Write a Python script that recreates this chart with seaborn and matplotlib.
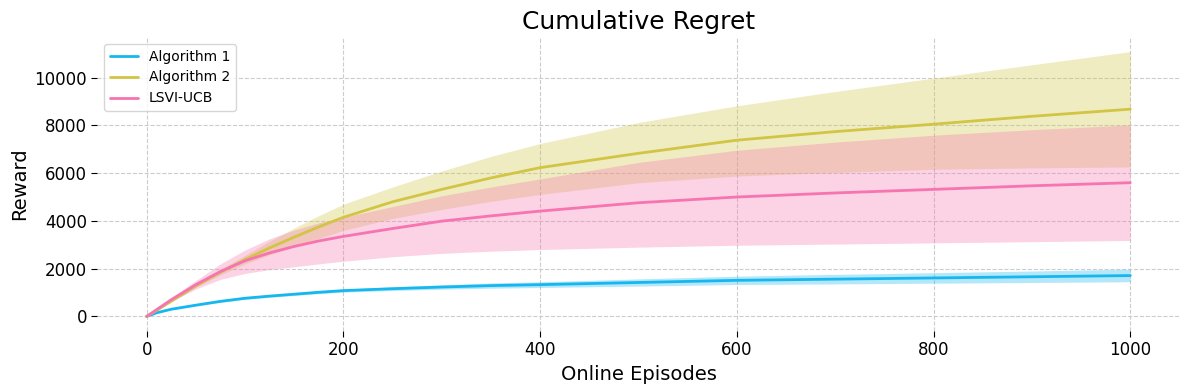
import numpy as np
import pandas as pd
import matplotlib
matplotlib.use("Agg")
import matplotlib.pyplot as plt
import seaborn as sns

# Valeurs
episodes = [0, 10, 25, 50, 75, 100, 125, 150, 175, 200, 250, 300, 350, 400,
            500, 600, 700, 800, 900, 1000]

algo1_mean = [0, 150, 300, 470, 630, 760, 850, 930, 1010, 1080, 1160, 1230, 1290, 1330,
              1420, 1510, 1560, 1610, 1660, 1710]
algo1_low = [0, 140, 280, 440, 590, 715, 800, 875, 950, 1015, 1085, 1140, 1180, 1210,
             1270, 1335, 1360, 1390, 1420, 1450]
algo1_high = [0, 160, 320, 500, 670, 805, 900, 985, 1070, 1145, 1235, 1320, 1400, 1450,
              1570, 1685, 1760, 1830, 1900, 1980]

algo2_mean = [0, 250, 640, 1280, 1850, 2380, 2870, 3320, 3750, 4150, 4800, 5320, 5800, 6230,
              6830, 7380, 7740, 8050, 8380, 8680]
algo2_low = [0, 240, 600, 1220, 1740, 2200, 2580, 2930, 3270, 3600, 4100, 4480, 4820, 5110,
             5600, 5880, 6030, 6160, 6220, 6260]
algo2_high = [0, 260, 680, 1340, 1970, 2560, 3150, 3700, 4220, 4700, 5420, 6090, 6700, 7240,
              8120, 8820, 9420, 9980, 10540, 11090]

lsvi_mean = [0, 280, 700, 1330, 1880, 2330, 2660, 2930, 3160, 3350, 3680, 3990, 4210, 4410,
             4760, 5000, 5170, 5320, 5470, 5600]
lsvi_low = [0, 260, 620, 1150, 1550, 1800, 1960, 2080, 2200, 2310, 2500, 2640, 2730, 2800,
            2900, 2980, 3030, 3080, 3130, 3180]
lsvi_high = [0, 300, 780, 1500, 2200, 2780, 3250, 3620, 3920, 4150, 4600, 5050, 5420, 5760,
             6450, 6960, 7300, 7590, 7820, 8020]

series_names = ["Algorithm 1", "Algorithm 2", "LSVI-UCB"]
colors = ["#16b7ef", "#d2c444", "#f674b0"]


def main():
    sns.set_style("white", {
        "text.color": "black",
        "axes.labelcolor": "black",
        "xtick.color": "black",
        "ytick.color": "black",
        "xtick.bottom": True,
        "ytick.left": True,
    })
    fig, ax = plt.subplots(figsize=(11.89, 3.9), dpi=100)

    series = [
        (algo1_mean, algo1_low, algo1_high),
        (algo2_mean, algo2_low, algo2_high),
        (lsvi_mean, lsvi_low, lsvi_high),
    ]

    for name, color, (mean, low, high) in zip(series_names, colors, series):
        df = pd.DataFrame({"episode": episodes, "reward": mean})
        sns.lineplot(data=df, x="episode", y="reward", ax=ax, color=color,
                     linewidth=2, label=name)
        ax.fill_between(episodes, low, high, color=color, alpha=0.32, linewidth=0)

    ax.set_title("Cumulative Regret", fontsize=18)
    ax.set_xlabel("Online Episodes", fontsize=14)
    ax.set_ylabel("Reward", fontsize=14)
    ax.tick_params(axis="both", labelsize=12, length=4, width=0.8)
    ax.set_xlim(-50, 1050)
    ax.set_ylim(-600, 11700)
    ax.set_yticks([0, 2000, 4000, 6000, 8000, 10000])
    ax.grid(True, linestyle="--", color="#cccccc", linewidth=0.8)
    sns.despine(ax=ax, left=True, bottom=True)

    ax.legend(loc="upper left", fontsize=10, frameon=True)
    fig.subplots_adjust(left=0.082, right=0.992, top=0.905, bottom=0.152)
    fig.savefig("out.png")


if __name__ == "__main__":
    main()
